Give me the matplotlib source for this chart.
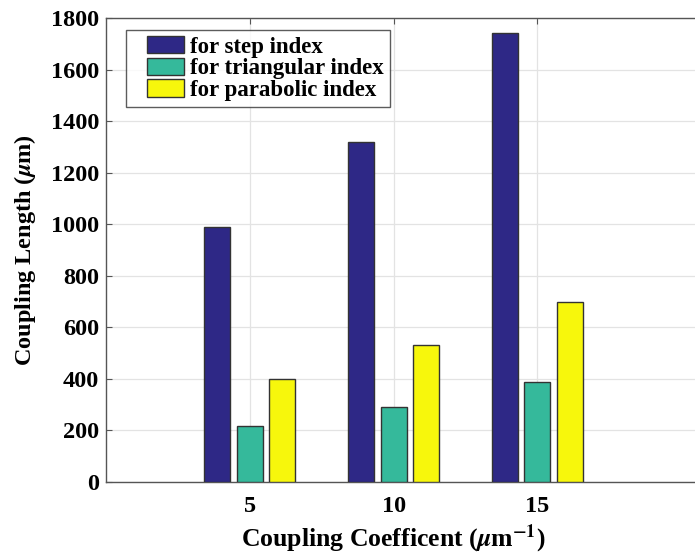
import numpy as np
import matplotlib.pyplot as plt
from matplotlib.patches import Rectangle
from matplotlib.legend_handler import HandlerPatch

plt.rcParams['font.family'] = ['Liberation Serif', 'DejaVu Serif']
plt.rcParams['font.weight'] = 'bold'
plt.rcParams['mathtext.fontset'] = 'stix'

# data
coeff = [5, 10, 15]
step_idx = [990, 1320, 1740]
tri_idx = [217, 290, 387]
para_idx = [400, 530, 700]
names = ['for step index', 'for triangular index', 'for parabolic index']
colors = ['#2E2886', '#35B99B', '#F7F70C']

fig = plt.figure(figsize=(6.95, 5.54), dpi=100)
ax = fig.add_axes([0.1525, 0.13, 0.869, 0.8375])

x = np.array(coeff)
w = 0.9
off = 1.13
for i, (vals, c) in enumerate(zip([step_idx, tri_idx, para_idx], colors)):
    ax.bar(x + (i - 1) * off, vals, width=w, color=c, edgecolor='#333333',
           linewidth=1.0, zorder=3)

ax.set_xlim(0, 21)
ax.set_ylim(0, 1800)
ax.set_xticks(coeff)
ax.set_yticks(np.arange(0, 1801, 200))
ax.grid(True, color='#e3e3e3', linewidth=0.9, zorder=0)
ax.set_axisbelow(True)
ax.tick_params(direction='in', length=4, width=0.8, color='#555555',
               labelsize=17.5, top=True, right=True)
ax.tick_params(axis='x', pad=10)
ax.tick_params(axis='y', pad=5)
for lab in ax.get_xticklabels() + ax.get_yticklabels():
    lab.set_fontweight('bold')
for s in ax.spines.values():
    s.set_color('#555555')
    s.set_linewidth(1.0)

ax.set_xlabel(r'Coupling Coefficent ($\mu$m$^{\mathbf{-1}}$)', fontsize=18.5,
              fontweight='bold', labelpad=0)
ax.xaxis.set_label_coords(0.475, -0.088)
ax.set_ylabel(r'Coupling Length ($\mu$m)', fontsize=17.5, fontweight='bold',
              labelpad=9)


def small_box(legend, orig_handle, xdescent, ydescent, width, height, fontsize):
    # patch sits on the right part of the handle slot, like the matlab legend
    return Rectangle((0.3 * width - xdescent, -ydescent), 0.7 * width, height)


handles = [Rectangle((0, 0), 1, 1, facecolor=c, edgecolor='#333333', linewidth=1.0)
           for c in colors]
leg = ax.legend(handles, names, loc='upper left', bbox_to_anchor=(0.033, 0.974),
                borderaxespad=0, fontsize=16.5, frameon=True, fancybox=False,
                edgecolor='#333333', handlelength=2.3, handleheight=0.8,
                handletextpad=0.25, labelspacing=0.0, borderpad=0.25,
                handler_map={Rectangle: HandlerPatch(patch_func=small_box)})
leg.get_frame().set_linewidth(1.0)
for t in leg.get_texts():
    t.set_fontweight('bold')

fig.savefig('out.png', dpi=100)
